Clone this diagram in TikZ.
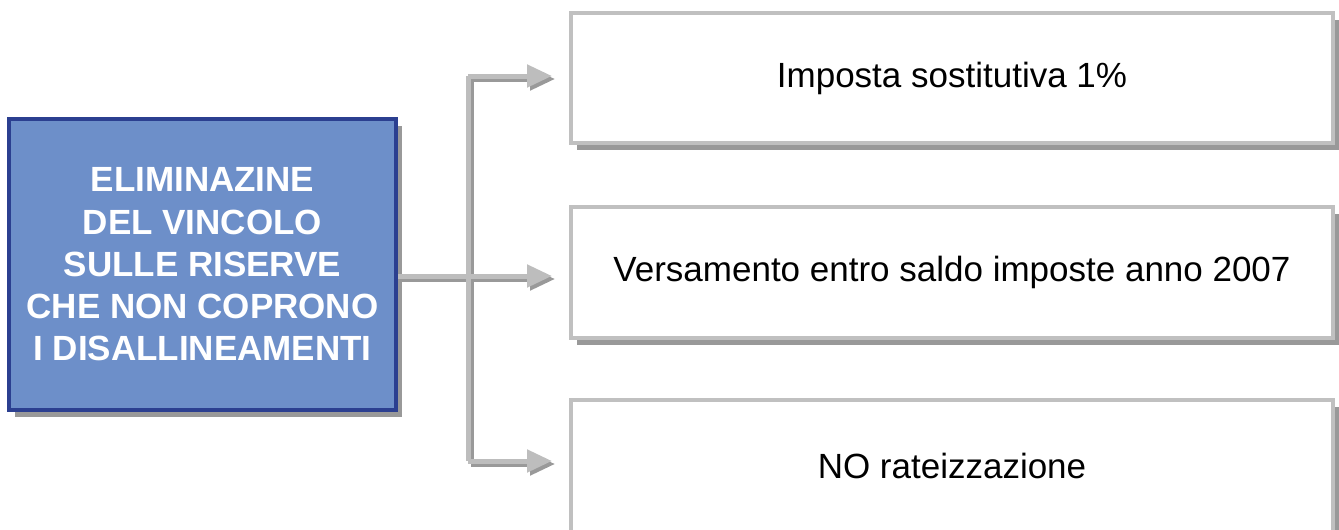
\documentclass[tikz,border=0pt]{standalone}
\usepackage{fontspec}
\setmainfont{Liberation Sans}
\usetikzlibrary{arrows.meta,shadows}
\definecolor{srcfill}{HTML}{6D8FC9}
\definecolor{srcline}{HTML}{2B3F90}
\definecolor{boxline}{HTML}{C0C0C0}
\definecolor{shade}{HTML}{999999}
\definecolor{connlight}{HTML}{BDBDBD}
\tikzset{
  x=1pt,y=1pt,
  srcbox/.style={draw=srcline,line width=4pt,fill=srcfill,minimum width=387pt,minimum height=291pt,
    text=white,font=\fontsize{35}{42.3}\selectfont\bfseries,align=center,inner sep=0pt,
    drop shadow={shadow xshift=6pt,shadow yshift=-7pt,fill=shade,opacity=1}},
  itembox/.style={draw=boxline,line width=4pt,fill=white,minimum width=762pt,
    font=\fontsize{35}{40}\selectfont,inner sep=0pt,
    drop shadow={shadow xshift=6pt,shadow yshift=-7pt,fill=shade,opacity=1}},
  conn/.style={draw=connlight,line width=5pt,line join=round},
  connshadow/.style={draw=shade,line width=5pt,line join=round},
  tip/.style={-{Triangle[length=25pt,width=22pt]}},
}
\begin{document}
\begin{tikzpicture}
\useasboundingbox (0,0) rectangle (1339,-530);
\clip (0,0) rectangle (1339,-530);
\node[srcbox] (src) at (202.5,-264.5) {ELIMINAZINE\\DEL VINCOLO\\SULLE RISERVE\\CHE NON COPRONO\\I DISALLINEAMENTI};
\node[itembox,minimum height=130pt] (b1) at (952,-78) {Imposta sostitutiva 1\%};
\node[itembox,minimum height=131pt] (b2) at (952,-272.5) {Versamento entro saldo imposte anno 2007};
\node[itembox,minimum height=132pt] (b3) at (952,-466) {NO rateizzazione};
\coordinate (j) at (468,-276);
\coordinate (t1) at (468,-76);
\coordinate (t3) at (468,-461);
% shadows of connectors
\begin{scope}[transform canvas={xshift=3pt,yshift=-3pt}]
\draw[connshadow] (src.east |- j) -- (j);
\draw[connshadow] (t1) -- (t3);
\draw[connshadow,tip,shorten >=17pt] (t1) -- (b1.west |- t1);
\draw[connshadow,tip,shorten >=17pt] (j) -- (b2.west |- j);
\draw[connshadow,tip,shorten >=17pt] (t3) -- (b3.west |- t3);
\end{scope}
% connectors
\draw[conn] (src.east |- j) -- (j);
\draw[conn] (t1) -- (t3);
\draw[conn,tip,shorten >=17pt] (t1) -- (b1.west |- t1);
\draw[conn,tip,shorten >=17pt] (j) -- (b2.west |- j);
\draw[conn,tip,shorten >=17pt] (t3) -- (b3.west |- t3);
\end{tikzpicture}
\end{document}
